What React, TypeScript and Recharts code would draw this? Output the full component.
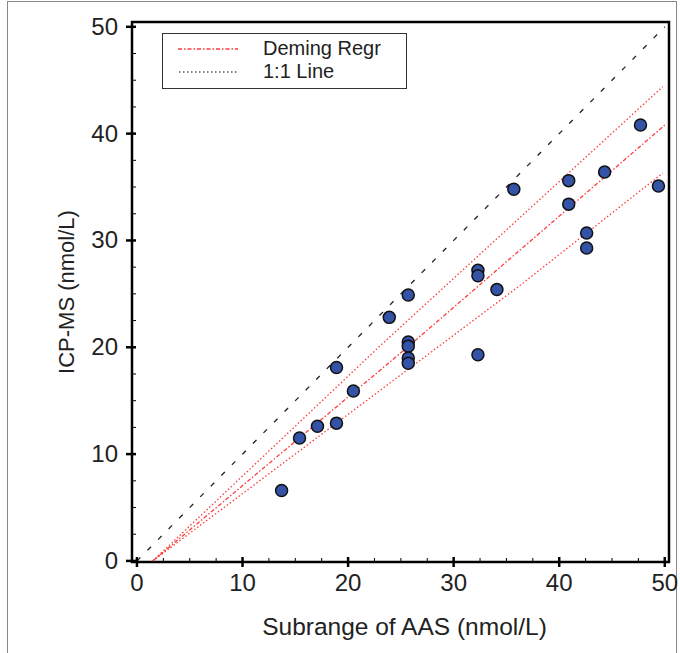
import React from "react";
import {
  ScatterChart,
  Scatter,
  XAxis,
  YAxis,
  ReferenceArea,
  Legend,
} from "recharts";

// AAS (x) vs ICP-MS (y), nmol/L
const aasValues = [
  13.7, 15.4, 17.1, 18.9, 18.9, 20.5, 23.9, 25.7, 25.7, 25.7, 25.7, 25.7,
  32.3, 32.3, 32.3, 34.1, 35.7, 40.9, 40.9, 42.6, 42.6, 44.3, 47.7, 49.4,
];
const icpValues = [
  6.6, 11.5, 12.6, 12.9, 18.1, 15.9, 22.8, 24.9, 20.5, 20.1, 19.0, 18.5,
  27.2, 26.7, 19.3, 25.4, 34.8, 35.6, 33.4, 30.7, 29.3, 36.4, 40.8, 35.1,
];

// deming regression and its bounds
const demingX = [1.5, 25.5, 50];
const demingY = [0, 19.9, 40.8];
const upperX = [1.5, 23, 49.8];
const upperY = [0, 20.1, 44.4];
const lowerX = [1.5, 36.3, 49.8];
const lowerY = [0, 25.8, 36.3];
const identityX = [0, 50];
const identityY = [0, 50];

const xTicks = [0, 2.5, 5, 7.5, 10, 12.5, 15, 17.5, 20, 22.5, 25, 27.5, 30, 32.5, 35, 37.5, 40, 42.5, 45, 47.5, 50];
const yTicks = [0, 2.5, 5, 7.5, 10, 12.5, 15, 17.5, 20, 22.5, 25, 27.5, 30, 32.5, 35, 37.5, 40, 42.5, 45, 47.5, 50];

const X_DOMAIN = [-0.47, 50.4];
const Y_DOMAIN = [-0.1, 50.45];

const FONT = '"Liberation Sans", Arial, Helvetica, sans-serif';
const TEXT = "#222";
const RED = "#ff3b3b";

const toPoints = (xs: number[], ys: number[]) => xs.map((x, i) => ({ x, y: ys[i] }));

const scatterData = toPoints(aasValues, icpValues);
const demingData = toPoints(demingX, demingY);
const upperData = toPoints(upperX, upperY);
const lowerData = toPoints(lowerX, lowerY);
const identityData = toPoints(identityX, identityY);

function XTick(props: any) {
  const { x, y, payload } = props;
  const v = payload.value;
  if (v % 10 !== 0) {
    return <line x1={x} x2={x} y1={y - 1} y2={y - 4} stroke="#000" strokeWidth={1} />;
  }
  return (
    <g>
      <line x1={x} x2={x} y1={y - 5} y2={y + 5} stroke="#000" strokeWidth={2.5} />
      <text x={x} y={y + 29} textAnchor="middle" fill={TEXT} fontSize={24} fontFamily={FONT}>
        {v}
      </text>
    </g>
  );
}

function YTick(props: any) {
  const { x, y, payload } = props;
  const v = payload.value;
  if (v % 10 !== 0) {
    return <line x1={x + 1} x2={x + 4} y1={y} y2={y} stroke="#000" strokeWidth={1} />;
  }
  return (
    <g>
      <line x1={x - 6} x2={x + 4} y1={y} y2={y} stroke="#000" strokeWidth={2.5} />
      <text x={x - 14} y={y + 8} textAnchor="end" fill={TEXT} fontSize={24} fontFamily={FONT}>
        {v}
      </text>
    </g>
  );
}

const Dot = (props: any) => (
  <circle cx={props.cx} cy={props.cy} r={6} fill="#3452a6" stroke="#111" strokeWidth={1.5} />
);
const NoDot = () => <g />;

function LegendBox() {
  return (
    <div
      style={{
        position: "relative",
        width: 245,
        height: 56,
        boxSizing: "border-box",
        border: "1.5px solid #333",
        background: "#fff",
        fontFamily: FONT,
        fontSize: 20,
        color: TEXT,
      }}
    >
      <svg width={80} height={50} style={{ position: "absolute", left: 13, top: 2 }}>
        <line x1={2} x2={62} y1={13} y2={13} stroke={RED} strokeWidth={1.5} strokeDasharray="4 2 1.5 2" />
        <line x1={3} x2={62} y1={36} y2={36} stroke="#000" strokeWidth={1.2} strokeDasharray="1.5 2.5" />
      </svg>
      <div style={{ position: "absolute", left: 100, top: 3, lineHeight: "22px" }}>Deming Regr</div>
      <div style={{ position: "absolute", left: 100, top: 26, lineHeight: "22px" }}>1:1 Line</div>
    </div>
  );
}

export default function App() {
  return (
    <div style={{ position: "absolute", left: 0, top: 0, width: 680, height: 653, background: "#fff" }}>
      <div
        style={{
          position: "absolute",
          left: 7,
          top: 1,
          width: 668,
          height: 652,
          borderLeft: "1.5px solid #888",
          borderRight: "1.5px solid #888",
          borderTop: "1.5px solid #888",
        }}
      />
      <div style={{ position: "absolute", left: 0, top: 0 }}>
        <ScatterChart width={680} height={653} margin={{ top: 22, right: 11, bottom: 31, left: 72 }}>
          <XAxis
            type="number"
            dataKey="x"
            domain={X_DOMAIN}
            allowDataOverflow
            ticks={xTicks}
            interval={0}
            tick={XTick}
            tickLine={false}
            axisLine={false}
            tickSize={0}
            tickMargin={0}
            height={60}
            label={{
              content: ({ viewBox }: any) => (
                <text
                  x={viewBox.x + viewBox.width / 2 + 4}
                  y={viewBox.y + 73}
                  textAnchor="middle"
                  fill={TEXT}
                  fontSize={24.5}
                  fontFamily={FONT}
                >
                  Subrange of AAS (nmol/L)
                </text>
              ),
            }}
          />
          <YAxis
            type="number"
            dataKey="y"
            domain={Y_DOMAIN}
            allowDataOverflow
            ticks={yTicks}
            interval={0}
            tick={YTick}
            tickLine={false}
            axisLine={false}
            tickSize={0}
            tickMargin={0}
            width={60}
            label={{
              content: ({ viewBox }: any) => {
                const cx = 66;
                const cy = viewBox.y + viewBox.height / 2;
                return (
                  <text
                    x={cx}
                    y={cy}
                    transform={`rotate(-90 ${cx} ${cy})`}
                    textAnchor="middle"
                    dominantBaseline="central"
                    fill={TEXT}
                    fontSize={22}
                    fontFamily={FONT}
                  >
                    ICP-MS (nmol/L)
                  </text>
                );
              },
            }}
          />
          <ReferenceArea
            x1={X_DOMAIN[0]}
            x2={X_DOMAIN[1]}
            y1={Y_DOMAIN[0]}
            y2={Y_DOMAIN[1]}
            fill="none"
            stroke="#000"
            strokeWidth={2.5}
          />
          <Legend
            layout="vertical"
            align="center"
            verticalAlign="middle"
            wrapperStyle={{ left: 162, top: 33, width: 245 }}
            content={() => <LegendBox />}
          />
          <Scatter
            name="1:1 Line"
            data={identityData}
            line={{ stroke: "#222", strokeWidth: 1.3, strokeDasharray: "5 10" }}
            shape={NoDot}
            isAnimationActive={false}
          />
          <Scatter
            name="upper"
            data={upperData}
            line={{ stroke: RED, strokeWidth: 1.3, strokeDasharray: "1.5 2.2" }}
            shape={NoDot}
            legendType="none"
            isAnimationActive={false}
          />
          <Scatter
            name="lower"
            data={lowerData}
            line={{ stroke: RED, strokeWidth: 1.3, strokeDasharray: "1.5 2.2" }}
            shape={NoDot}
            legendType="none"
            isAnimationActive={false}
          />
          <Scatter
            name="Deming Regr"
            data={demingData}
            line={{ stroke: RED, strokeWidth: 1.3, strokeDasharray: "4 2 1.5 2" }}
            shape={NoDot}
            isAnimationActive={false}
          />
          <Scatter
            name="samples"
            data={scatterData}
            shape={Dot}
            legendType="none"
            isAnimationActive={false}
          />
        </ScatterChart>
      </div>
    </div>
  );
}
